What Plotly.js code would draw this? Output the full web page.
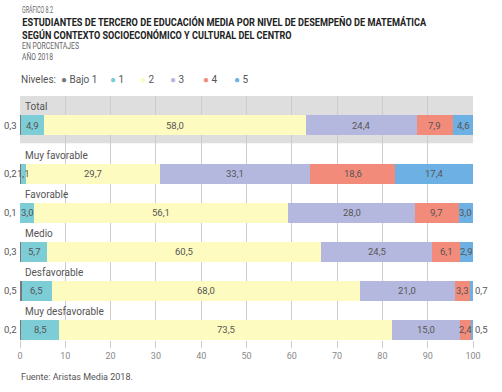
<!DOCTYPE html>
<html><head><meta charset="utf-8">
<script src="https://cdn.plot.ly/plotly-3.0.1.min.js"></script>
<style>html,body{margin:0;padding:0;background:#fff;}#chart{width:502px;height:392px;}</style>
</head><body><div id="chart"></div>
<script>
const categories = ["Total", "Muy favorable", "Favorable", "Medio", "Desfavorable", "Muy desfavorable"];
const levels = ["Bajo 1", "1", "2", "3", "4", "5"];
const bajo1 = [0.3, 0.2, 0.1, 0.3, 0.5, 0.2];
const nivel1 = [4.9, 1.1, 3.0, 5.7, 6.5, 8.5];
const nivel2 = [58.0, 29.7, 56.1, 60.5, 68.0, 73.5];
const nivel3 = [24.4, 33.1, 28.0, 24.5, 21.0, 15.0];
const nivel4 = [7.9, 18.6, 9.7, 6.1, 3.3, 2.4];
const nivel5 = [4.6, 17.4, 3.0, 2.9, 0.7, 0.5];
const xTicks = [0, 10, 20, 30, 40, 50, 60, 70, 80, 90, 100];

const series = [bajo1, nivel1, nivel2, nivel3, nivel4, nivel5];
const colors = ["#777879", "#7dcdd6", "#fdfbbf", "#b5b8de", "#f38b7b", "#6db0e3"];
const ypos = categories.map((c, i) => i === 0 ? 0.75 : i + 1);
const fmt = v => v.toFixed(1).replace('.', ',');
const FONT = "Roboto, 'Liberation Sans', sans-serif";
const COND = "'Roboto', 'Liberation Sans', sans-serif";

const traces = series.map((s, k) => ({
  type: 'bar', orientation: 'h', name: levels[k],
  x: s, y: ypos, width: 0.51,
  marker: {color: colors[k], line: {width: 0}},
  hoverinfo: 'skip', showlegend: false
}));

const annotations = [];
categories.forEach((c, i) => {
  annotations.push({x: 0.6, y: ypos[i] - 0.47, xref: 'x', yref: 'y', text: c, showarrow: false,
    xanchor: 'left', yanchor: 'middle', font: {family: FONT, size: 10, color: '#555'}});
  let cum = 0;
  series.forEach((s, k) => {
    const v = s[i];
    let x = cum + v / 2, xa = 'center', xs = 0;
    if (k === 0) { x = 0; xa = 'right'; xs = -1; }
    else if (v < 1) { x = Math.min(cum + v, 100); xa = 'left'; }
    annotations.push({x: x, y: ypos[i], xref: 'x', yref: 'y', text: fmt(v), showarrow: false,
      xanchor: xa, yanchor: 'middle', xshift: xs,
      font: {family: FONT, size: 9.5, color: '#555'}});
    cum += v;
  });
});

const py = y => (392 - 52 - y) / 244;
const px = x => (x - 20) / 453;

const titleLines = [
  {t: "GRÁFICO 8.2", y: 10, s: 9, c: '#666', w: 31, b: 400},
  {t: "ESTUDIANTES DE TERCERO DE EDUCACIÓN MEDIA POR NIVEL DE DESEMPEÑO DE MATEMÁTICA", y: 23, s: 11, c: '#222', w: 405, b: 700},
  {t: "SEGÚN CONTEXTO SOCIOECONÓMICO Y CULTURAL DEL CENTRO", y: 35, s: 11, c: '#222', w: 270, b: 700},
  {t: "EN PORCENTAJES", y: 46, s: 9, c: '#666', w: 57, b: 400},
  {t: "AÑO 2018", y: 57, s: 9, c: '#666', w: 31, b: 400}
];
titleLines.forEach(l => annotations.push({xref: 'paper', yref: 'paper', x: px(20), y: py(l.y), text: l.t,
  showarrow: false, xanchor: 'left', yanchor: 'middle', font: {family: COND, size: l.s, color: l.c, weight: l.b}}));

annotations.push({xref: 'paper', yref: 'paper', x: px(19), y: py(80), text: 'Niveles:', showarrow: false,
  xanchor: 'left', yanchor: 'middle', font: {family: FONT, size: 10, color: '#555'}});
const legX = [59, 108, 138, 168, 201, 232];
levels.forEach((lv, k) => {
  annotations.push({xref: 'paper', yref: 'paper', x: px(legX[k]), y: py(80), text: '<span style="color:' + colors[k] + '">●</span> ' + lv,
    showarrow: false, xanchor: 'left', yanchor: 'middle', font: {family: FONT, size: 10, color: '#555'}});
});
annotations.push({xref: 'paper', yref: 'paper', x: px(19), y: py(377), text: 'Fuente: Aristas Media 2018.', showarrow: false,
  xanchor: 'left', yanchor: 'middle', font: {family: FONT, size: 9, color: '#555'}});

const layout = {
  width: 502, height: 392,
  margin: {l: 20, r: 29, t: 96, b: 52},
  barmode: 'stack', bargap: 0,
  paper_bgcolor: '#fff', plot_bgcolor: '#fff',
  xaxis: {range: [0, 100], tickvals: xTicks, ticktext: xTicks.map(String), showgrid: true, gridcolor: '#cccccc', gridwidth: 1,
    zeroline: false, showline: false, ticks: 'outside', ticklen: 7, tickcolor: '#cccccc',
    tickfont: {family: FONT, size: 9, color: '#888'}, fixedrange: true},
  yaxis: {range: [6.26, 0], showticklabels: false, showgrid: false, zeroline: false, showline: false, fixedrange: true},
  shapes: [{type: 'rect', xref: 'x', yref: 'y', x0: 0, x1: 100, y0: 0, y1: 1.21, fillcolor: '#dedede', line: {width: 0}, layer: 'below'}],
  annotations: annotations
};
Plotly.newPlot('chart', traces, layout, {staticPlot: true, displayModeBar: false}).then(gd => {
  // condense the title lines horizontally to mimic the condensed typeface
  gd.querySelectorAll('.annotation').forEach(g => {
    const el = g.querySelector('.annotation-text');
    if (!el) return;
    const line = titleLines.find(l => l.t === el.textContent);
    if (!line) return;
    const bb = el.getBBox();
    const s = line.w / bb.width;
    el.setAttribute('transform', 'translate(' + (bb.x * (1 - s)) + ',0) scale(' + s + ',1)');
    g.querySelectorAll('rect').forEach(r => {
      r.setAttribute('x', bb.x);
      r.setAttribute('width', line.w);
    });
  });
});
</script></body></html>
